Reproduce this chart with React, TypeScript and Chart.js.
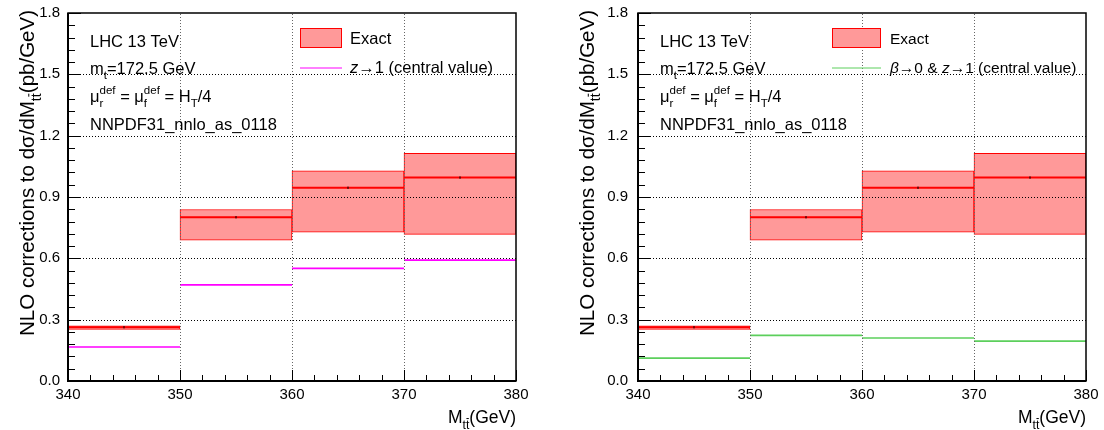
import React, { useEffect, useRef } from 'react';
import { Chart, registerables } from 'chart.js';

Chart.register(...registerables);

// ---------- data ----------
const binEdges = [340, 350, 360, 370, 380];
const exactCentral = [0.263, 0.801, 0.945, 0.995];
const exactLow = [0.252, 0.689, 0.728, 0.717];
const exactHigh = [0.27, 0.839, 1.028, 1.114];
const exactStatErr = [0.006, 0.006, 0.006, 0.006];
const zLimitCentral = [0.166, 0.47, 0.551, 0.591];
const betaZLimitCentral = [0.112, 0.223, 0.21, 0.195];
const xTickValues = [340, 350, 360, 370, 380];
const yTickValues = [0, 0.3, 0.6, 0.9, 1.2, 1.5, 1.8];
const xMinorStep = 2;
const yMinorStep = 0.06;

const FONT = "'Liberation Sans', Arial, Helvetica, sans-serif";

type Part = { t?: string; it?: boolean; sub?: string; sup?: string; bar?: boolean };

const infoLines: Part[][] = [
  [{ t: 'LHC 13 TeV' }],
  [{ t: 'm' }, { sub: 't' }, { t: '=172.5 GeV' }],
  [{ t: 'μ' }, { sub: 'r', sup: 'def' }, { t: ' = μ' }, { sub: 'f', sup: 'def' }, { t: ' = H' }, { sub: 'T' }, { t: '/4' }],
  [{ t: 'NNPDF31_nnlo_as_0118' }],
];
const yTitle: Part[] = [{ t: 'NLO corrections to dσ/dM' }, { sub: 'tt', bar: true }, { t: '(pb/GeV)' }];
const xTitle: Part[] = [{ t: 'M' }, { sub: 'tt', bar: true }, { t: '(GeV)' }];
const exactLabel: Part[] = [{ t: 'Exact' }];
const zLabel: Part[] = [{ t: 'z', it: true }, { t: '→1 (central value)' }];
const betaZLabel: Part[] = [{ t: 'β', it: true }, { t: '→0 & ' }, { t: 'z', it: true }, { t: '→1 (central value)' }];

// ---------- helpers ----------
function stepPoints(vals: number[]) {
  const pts: { x: number; y: number | null }[] = [];
  vals.forEach((v, i) => {
    pts.push({ x: binEdges[i], y: v }, { x: binEdges[i + 1], y: v });
    if (i < vals.length - 1) pts.push({ x: binEdges[i + 1], y: null });
  });
  return pts;
}

function errPoints(vals: number[], errs: number[]) {
  const pts: { x: number; y: number | null }[] = [];
  vals.forEach((v, i) => {
    const c = (binEdges[i] + binEdges[i + 1]) / 2;
    pts.push({ x: c, y: v - errs[i] }, { x: c, y: v + errs[i] });
    if (i < vals.length - 1) pts.push({ x: c, y: null });
  });
  return pts;
}

function drawRich(ctx: CanvasRenderingContext2D, parts: Part[], x: number, y: number, size: number, draw = true): number {
  let cx = x;
  const small = size * 0.7;
  for (const p of parts) {
    if (p.sub !== undefined || p.sup !== undefined) {
      ctx.font = `${small}px ${FONT}`;
      const w1 = p.sub ? ctx.measureText(p.sub).width : 0;
      const w2 = p.sup ? ctx.measureText(p.sup).width : 0;
      if (draw) {
        if (p.sub) ctx.fillText(p.sub, cx, y + size * 0.32);
        if (p.sup) ctx.fillText(p.sup, cx, y - size * 0.5);
        if (p.bar && p.sub) {
          const wFirst = ctx.measureText(p.sub.slice(0, p.sub.length - 1)).width;
          const by = y + size * 0.32 - small * 0.82;
          ctx.save();
          ctx.lineWidth = 1;
          ctx.strokeStyle = ctx.fillStyle as string;
          ctx.beginPath();
          ctx.moveTo(cx + wFirst + 0.5, by);
          ctx.lineTo(cx + w1 - 0.5, by);
          ctx.stroke();
          ctx.restore();
        }
      }
      cx += Math.max(w1, w2);
    } else {
      ctx.font = `${p.it ? 'italic ' : ''}${size}px ${FONT}`;
      if (draw) ctx.fillText(p.t || '', cx, y);
      cx += ctx.measureText(p.t || '').width;
    }
  }
  return cx - x;
}

type PanelCfg = {
  curve: number[];
  color: string;
  legendLabel: Part[];
  padRight: number;
  yAxisWidth: number;
  tickPad: number;
  yTitleX: number;
  legendX: number;
  legendW: number;
  legendTextX: number;
  legendSize: number;
  infoX: number;
};

const leftCfg: PanelCfg = {
  curve: zLimitCentral,
  color: '#ff00ff',
  legendLabel: zLabel,
  padRight: 36,
  yAxisWidth: 68,
  tickPad: 8,
  yTitleX: 34,
  legendX: 300,
  legendW: 42,
  legendTextX: 350,
  legendSize: 16.5,
  infoX: 90,
};

const rightCfg: PanelCfg = {
  curve: betaZLimitCentral,
  color: '#5ccf5c',
  legendLabel: betaZLabel,
  padRight: 18,
  yAxisWidth: 86,
  tickPad: 10,
  yTitleX: 41.5,
  legendX: 280,
  legendW: 49,
  legendTextX: 338,
  legendSize: 15.5,
  infoX: 108,
};

function Panel({ cfg, left }: { cfg: PanelCfg; left: number }) {
  const ref = useRef<HTMLCanvasElement | null>(null);
  useEffect(() => {
    if (!ref.current) return;
    const decor = {
      id: 'decor',
      afterDatasetsDraw(chart: any) {
        const ctx: CanvasRenderingContext2D = chart.ctx;
        const { left: L, right: R, top: T, bottom: B } = chart.chartArea;
        const xs = chart.scales.x;
        const ys = chart.scales.y;
        ctx.save();
        ctx.lineWidth = 1;
        ctx.setLineDash([1, 2]);
        // horizontal grid
        ctx.strokeStyle = '#000';
        ctx.beginPath();
        ys.ticks.forEach((t: any) => {
          if (t.value <= 0 || t.value >= 1.8) return;
          const py = Math.round(ys.getPixelForValue(t.value)) + 0.5;
          ctx.moveTo(L, py);
          ctx.lineTo(R, py);
        });
        ctx.stroke();
        // vertical grid
        ctx.strokeStyle = '#666';
        ctx.beginPath();
        xs.ticks.forEach((t: any) => {
          if (t.value <= 340 || t.value >= 380) return;
          const px = Math.round(xs.getPixelForValue(t.value)) + 0.5;
          ctx.moveTo(px, B);
          ctx.lineTo(px, T);
        });
        ctx.stroke();
        ctx.restore();
      },
      afterDraw(chart: any) {
        const ctx: CanvasRenderingContext2D = chart.ctx;
        const { left: L, right: R, top: T, bottom: B } = chart.chartArea;
        const xs = chart.scales.x;
        const ys = chart.scales.y;
        ctx.save();
        ctx.strokeStyle = '#000';
        ctx.fillStyle = '#000';
        // ticks (inward)
        ctx.lineWidth = 1;
        ctx.beginPath();
        for (let v = binEdges[0]; v <= binEdges[binEdges.length - 1] + 1e-9; v += xMinorStep) {
          const px = Math.round(xs.getPixelForValue(v)) + 0.5;
          const major = xTickValues.some((m) => Math.abs(m - v) < 1e-6);
          ctx.moveTo(px, B);
          ctx.lineTo(px, B - (major ? 11 : 6));
        }
        for (let v = 0; v <= 1.8 + 1e-9; v += yMinorStep) {
          const py = Math.round(ys.getPixelForValue(v)) + 0.5;
          const major = yTickValues.some((m) => Math.abs(m - v) < 1e-6);
          ctx.moveTo(L, py);
          ctx.lineTo(L + (major ? 13 : 7), py);
        }
        ctx.stroke();
        // frame
        ctx.lineWidth = 1.5;
        ctx.strokeRect(L, T, R - L, B - T);
        ctx.lineWidth = 2;
        ctx.beginPath();
        ctx.moveTo(L, T);
        ctx.lineTo(L, B);
        ctx.lineTo(R, B);
        ctx.stroke();

        // info text
        ctx.textBaseline = 'alphabetic';
        ctx.textAlign = 'left';
        const infoBase = [47, 74, 102, 130];
        infoLines.forEach((parts, i) => drawRich(ctx, parts, cfg.infoX, infoBase[i], 16.5));

        // legend
        ctx.fillStyle = '#ff9999';
        ctx.fillRect(cfg.legendX, 28, cfg.legendW, 20);
        ctx.strokeStyle = '#ff0000';
        ctx.lineWidth = 1;
        ctx.strokeRect(cfg.legendX + 0.5, 28.5, cfg.legendW - 1, 19);
        ctx.strokeStyle = cfg.color;
        ctx.lineWidth = 1;
        ctx.beginPath();
        ctx.moveTo(cfg.legendX, 68);
        ctx.lineTo(cfg.legendX + cfg.legendW, 68);
        ctx.stroke();
        ctx.fillStyle = '#000';
        drawRich(ctx, exactLabel, cfg.legendTextX, 44, cfg.legendSize);
        drawRich(ctx, cfg.legendLabel, cfg.legendTextX, 73, cfg.legendSize);

        // x title (right aligned)
        const xw = drawRich(ctx, xTitle, 0, 0, 17.5, false);
        drawRich(ctx, xTitle, R - xw, 423, 17.5);

        // y title (rotated, right aligned to top)
        const yw = drawRich(ctx, yTitle, 0, 0, 20.5, false);
        ctx.translate(cfg.yTitleX, 10);
        ctx.rotate(-Math.PI / 2);
        drawRich(ctx, yTitle, -yw, 0, 20.5);
        ctx.restore();
      },
    };

    const zeroPad = (s: any) => {
      s.paddingLeft = 0;
      s.paddingRight = 0;
      s.paddingTop = 0;
      s.paddingBottom = 0;
    };

    const chart = new Chart(ref.current, {
      type: 'bar',
      data: {
        datasets: [
          {
            type: 'bar',
            label: 'Exact',
            data: exactLow.map((lo, i) => ({ x: (binEdges[i] + binEdges[i + 1]) / 2, y: [lo, exactHigh[i]] })) as any,
            backgroundColor: '#ff9999',
            borderColor: '#ff0000',
            borderWidth: 1,
            borderSkipped: false,
            barPercentage: 1,
            categoryPercentage: 1,
            order: 4,
          },
          {
            type: 'line',
            label: 'Exact central',
            data: stepPoints(exactCentral) as any,
            borderColor: '#ff0000',
            borderWidth: 2,
            pointRadius: 0,
            spanGaps: false,
            fill: false,
            order: 3,
          },
          {
            type: 'line',
            label: 'Exact stat',
            data: errPoints(exactCentral, exactStatErr) as any,
            borderColor: '#000',
            borderWidth: 1,
            pointRadius: 0,
            spanGaps: false,
            fill: false,
            order: 2,
          },
          {
            type: 'line',
            label: 'limit',
            data: stepPoints(cfg.curve) as any,
            borderColor: cfg.color,
            borderWidth: 1.6,
            pointRadius: 0,
            spanGaps: false,
            fill: false,
            order: 1,
          },
        ],
      },
      options: {
        animation: false,
        responsive: false,
        devicePixelRatio: 1,
        layout: { padding: { left: 0, top: 13, right: cfg.padRight, bottom: 0 } },
        plugins: { legend: { display: false }, tooltip: { enabled: false } },
        scales: {
          x: {
            type: 'linear',
            min: 340,
            max: 380,
            offset: false,
            afterBuildTicks: (s: any) => {
              s.ticks = xTickValues.map((v) => ({ value: v }));
            },
            afterFit: (s: any) => {
              s.height = 49;
              zeroPad(s);
            },
            grid: { display: false, drawTicks: false, offset: false },
            border: { display: false },
            ticks: {
              color: '#000',
              font: { family: FONT, size: 15 },
              padding: 5,
              maxRotation: 0,
              autoSkip: false,
              callback: (v: any) => String(v),
            },
          },
          y: {
            type: 'linear',
            min: 0,
            max: 1.8,
            afterBuildTicks: (s: any) => {
              s.ticks = yTickValues.map((v) => ({ value: v }));
            },
            afterFit: (s: any) => {
              s.width = cfg.yAxisWidth;
              zeroPad(s);
            },
            grid: { display: false, drawTicks: false },
            border: { display: false },
            ticks: {
              color: '#000',
              font: { family: FONT, size: 15 },
              padding: cfg.tickPad,
              callback: (v: any) => Number(v).toFixed(1),
            },
          },
        },
      } as any,
      plugins: [decor],
    });
    return () => chart.destroy();
  }, [cfg]);
  return (
    <canvas
      ref={ref}
      width={552}
      height={430}
      style={{ position: 'absolute', left, top: 0, width: 552, height: 430, display: 'block' }}
    />
  );
}

export default function App() {
  return (
    <div style={{ position: 'absolute', left: 0, top: 0, width: 1104, height: 430, background: '#fff' }}>
      <Panel cfg={leftCfg} left={0} />
      <Panel cfg={rightCfg} left={552} />
    </div>
  );
}
